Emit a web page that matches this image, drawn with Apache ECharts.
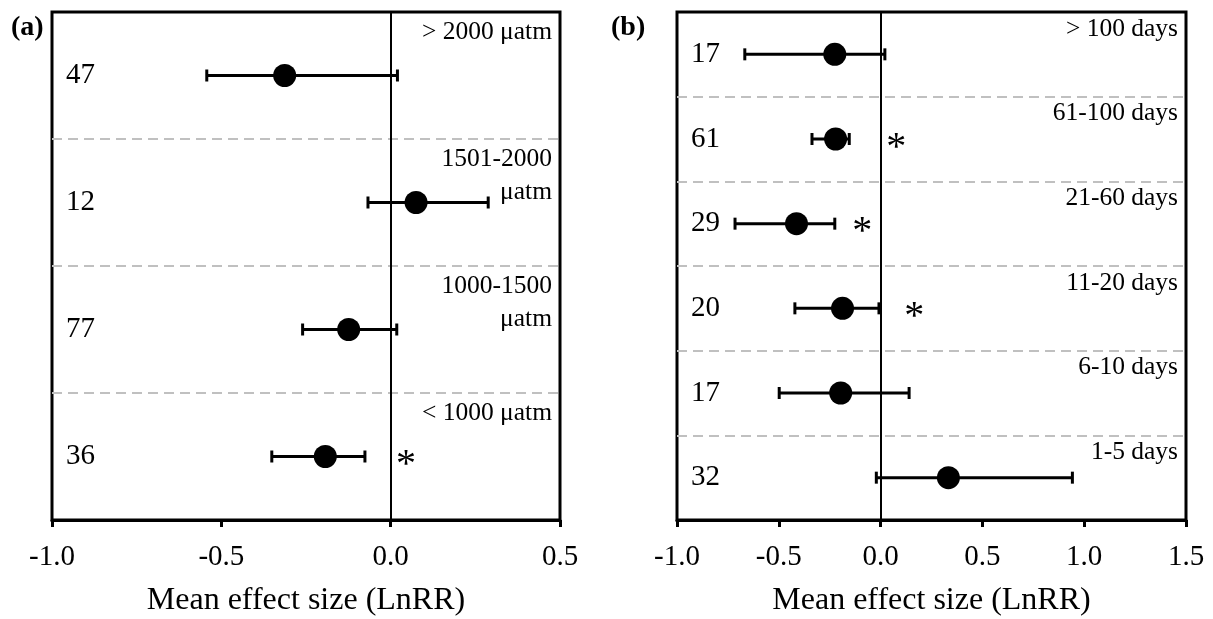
<!DOCTYPE html>
<html>
<head>
<meta charset="utf-8">
<script src="https://cdn.jsdelivr.net/npm/echarts@6/dist/echarts.min.js"></script>
<style>
  html, body { margin: 0; padding: 0; background: #fff; }
  #main { width: 1213px; height: 619px; }
</style>
</head>
<body>
<div id="main"></div>
<script>
// panel (a): CO2 level, top to bottom
var catsA = ['> 2000 \u03bcatm', '1501-2000\n\u03bcatm', '1000-1500\n\u03bcatm', '< 1000 \u03bcatm'];
var nA = [47, 12, 77, 36];
var meanA = [-0.313, 0.075, -0.124, -0.193];
var lowA = [-0.543, -0.067, -0.260, -0.351];
var highA = [0.020, 0.288, 0.018, -0.076];
var starA = [null, null, null, 0.045];

// panel (b): exposure duration, top to bottom
var catsB = ['> 100 days', '61-100 days', '21-60 days', '11-20 days', '6-10 days', '1-5 days'];
var nB = [17, 61, 29, 20, 17, 32];
var meanB = [-0.225, -0.221, -0.413, -0.187, -0.196, 0.333];
var lowB = [-0.667, -0.337, -0.715, -0.421, -0.498, -0.021];
var highB = [0.021, -0.154, -0.225, -0.008, 0.140, 0.942];
var starB = [null, 0.077, -0.090, 0.165, null, null];

var xTicksA = [-1.0, 0.5];   // min, max
var xTicksB = [-1.0, 1.5];

var FONT = 'Liberation Serif';
var myChart = echarts.init(document.getElementById('main'));

var grids = [], xAxes = [], yAxes = [], series = [];

function errorBar(params, api) {
    var y = api.value(0);
    var p1 = api.coord([api.value(1), y]);
    var p2 = api.coord([api.value(2), y]);
    var h = 6;
    var st = { stroke: '#000', lineWidth: 3 };
    return {
        type: 'group',
        children: [
            { type: 'line', shape: { x1: p1[0], y1: p1[1], x2: p2[0], y2: p2[1] }, style: st },
            { type: 'line', shape: { x1: p1[0], y1: p1[1] - h, x2: p1[0], y2: p1[1] + h }, style: st },
            { type: 'line', shape: { x1: p2[0], y1: p2[1] - h, x2: p2[0], y2: p2[1] + h }, style: st }
        ]
    };
}

function addPanel(k, grid, cats, n, mean, low, high, star, xr, labelOffset) {
    grids.push(Object.assign({
        show: true, borderColor: '#000', borderWidth: 3, backgroundColor: '#fff',
        containLabel: false, outerBoundsMode: 'none'
    }, grid));
    xAxes.push({
        gridIndex: k, type: 'value', min: xr[0], max: xr[1], interval: 0.5,
        name: 'Mean effect size (LnRR)', nameLocation: 'middle', nameGap: 65,
        nameTextStyle: { fontFamily: FONT, fontSize: 32, color: '#000' },
        axisLine: { show: true, onZero: false, lineStyle: { color: '#000', width: 3 } },
        axisTick: { show: true, length: 7, lineStyle: { color: '#000', width: 3 } },
        axisLabel: { fontFamily: FONT, fontSize: 29, color: '#000', margin: 23,
            formatter: function (v) { return v.toFixed(1); } },
        splitLine: { show: false }
    });
    yAxes.push({
        gridIndex: k, type: 'category', data: cats, inverse: true,
        axisLine: { show: false }, axisTick: { show: false },
        axisLabel: {
            show: true, inside: true, margin: 14, fontFamily: FONT, fontSize: 29, color: '#000',
            formatter: function (v, i) { return String(n[i]); }
        },
        splitLine: { show: true, interval: 0, showMinLine: false, showMaxLine: false,
            lineStyle: { color: '#c0c0c0', width: 2, type: [10, 6] } }
    });
    var bars = [], pts = [], names = [], stars = [];
    for (var i = 0; i < cats.length; i++) {
        bars.push([i, low[i], high[i]]);
        pts.push([mean[i], i]);
        names.push({ value: [xr[1], i], name: cats[i] });
        if (star[i] !== null) stars.push([star[i], i]);
    }
    series.push({
        type: 'custom', xAxisIndex: k, yAxisIndex: k, renderItem: errorBar,
        encode: { y: 0, x: [1, 2] }, data: bars, z: 3
    });
    series.push({
        type: 'scatter', xAxisIndex: k, yAxisIndex: k, data: pts, symbolSize: 23,
        itemStyle: { color: '#000', opacity: 1 }, z: 4,
        markLine: {
            silent: true, symbol: 'none', label: { show: false },
            lineStyle: { color: '#000', width: 2, type: 'solid', opacity: 1 },
            data: [{ xAxis: 0 }]
        }
    });
    series.push({
        type: 'scatter', xAxisIndex: k, yAxisIndex: k, data: names, symbolSize: 0,
        itemStyle: { color: '#000', opacity: 1 },
        label: {
            show: true, position: 'left', distance: 8, formatter: '{b}',
            fontFamily: FONT, fontSize: 25.5, color: '#000', lineHeight: 33,
            align: 'right', verticalAlign: 'top', offset: [0, labelOffset]
        }
    });
    series.push({
        type: 'scatter', xAxisIndex: k, yAxisIndex: k, data: stars, symbolSize: 0,
        itemStyle: { color: '#000', opacity: 1 },
        label: {
            show: true, position: 'inside', formatter: '*',
            fontFamily: FONT, fontSize: 40, color: '#000', offset: [0, 9]
        }
    });
}

addPanel(0, { left: 52, right: 653, top: 12, bottom: 99 }, catsA, nA, meanA, lowA, highA, starA, xTicksA, -60);
addPanel(1, { left: 677, right: 27, top: 12, bottom: 99 }, catsB, nB, meanB, lowB, highB, starB, xTicksB, -42);

option = {
    backgroundColor: '#fff',
    animation: false,
    textStyle: { fontFamily: FONT },
    title: [
        { text: '(a)', left: 6, top: 9, textStyle: { fontFamily: FONT, fontSize: 28, fontWeight: 'bold', color: '#000' } },
        { text: '(b)', left: 606, top: 9, textStyle: { fontFamily: FONT, fontSize: 28, fontWeight: 'bold', color: '#000' } }
    ],
    grid: grids,
    xAxis: xAxes,
    yAxis: yAxes,
    series: series
};

myChart.setOption(option);
</script>
</body>
</html>
